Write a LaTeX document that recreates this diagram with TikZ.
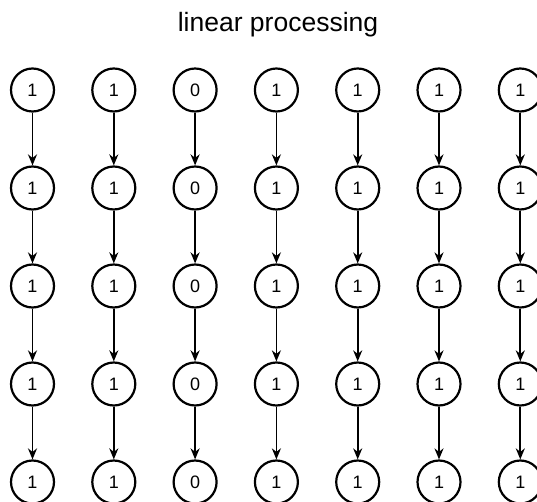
\documentclass[tikz,border=0pt]{standalone}
\usepackage{fontspec}
\setmainfont{Liberation Sans}
\usetikzlibrary{arrows.meta}
\begin{document}
\begin{tikzpicture}[x=1pt,y=-1pt,
  unit/.style={circle,draw,line width=2.2pt,minimum size=43pt,inner sep=0pt,
    font=\fontsize{18}{18}\selectfont},
  link/.style={line width=1.7pt,-{Stealth[length=11pt,width=9pt,inset=3.5pt]}}]
\useasboundingbox (0,0) rectangle (537,502);
\node[font=\fontsize{26.5}{26.5}\selectfont] (title) at (278,25) {linear processing};
% one column per input bit, five processing stages each
\foreach \b [count=\c] in {1,1,0,1,1,1,1} {
  \foreach \r in {1,...,5} {
    \node[unit] (n\c-\r) at ({32.5+81.3*(\c-1)},{90+98*(\r-1)}) {\b};
  }
  \foreach \r [evaluate=\r as \s using int(\r+1)] in {1,...,4} {
    \draw[link] (n\c-\r) -- (n\c-\s);
  }
}
\end{tikzpicture}
\end{document}
